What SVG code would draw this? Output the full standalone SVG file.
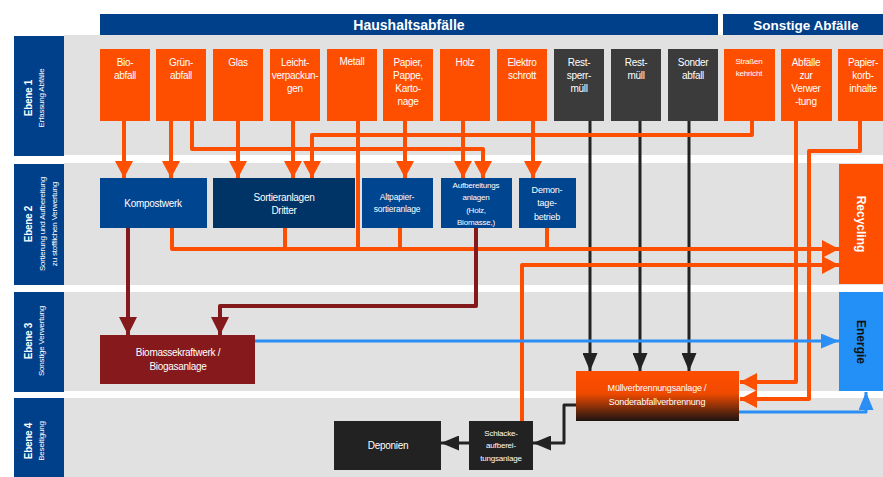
<svg xmlns="http://www.w3.org/2000/svg" width="883" height="477" viewBox="0 0 883 477">
<defs>
<style>
.band{fill:#e1e1e1}
.lvl{fill:#00408a}
.or{fill:#fe4e00}
.dk{fill:#3b3b3b}
.bl{fill:#00458f}
.bl2{fill:#003366}
.t{font-family:"Liberation Sans",Arial,sans-serif;fill:#fff;text-anchor:middle;font-size:10px;letter-spacing:-0.3px}
.s8{font-size:8px;letter-spacing:-0.2px}
.s85{font-size:8.5px;letter-spacing:-0.2px}
.s9{font-size:9px;letter-spacing:-0.2px}
.b{font-weight:bold}
.ol{stroke:#fe4e00;stroke-width:4;fill:none;stroke-linejoin:round}
.kl{stroke:#222;stroke-width:3;fill:none;stroke-linejoin:round}
.bll{stroke:#2b8ef5;stroke-width:3;fill:none;stroke-linejoin:round}
.rl{stroke:#84191b;stroke-width:4;fill:none;stroke-linejoin:round}
</style>
<marker id="ao" markerUnits="userSpaceOnUse" markerWidth="17" markerHeight="18" refX="17" refY="9" orient="auto"><path d="M0,0 L17,9 L0,18 z" fill="#fe4e00"/></marker>
<marker id="ak" markerUnits="userSpaceOnUse" markerWidth="18" markerHeight="15" refX="18" refY="7.5" orient="auto"><path d="M0,0 L18,7.5 L0,15 z" fill="#222"/></marker>
<marker id="ab" markerUnits="userSpaceOnUse" markerWidth="18" markerHeight="15" refX="18" refY="7.5" orient="auto"><path d="M0,0 L18,7.5 L0,15 z" fill="#2b8ef5"/></marker>
<marker id="ar" markerUnits="userSpaceOnUse" markerWidth="18" markerHeight="18" refX="18" refY="9" orient="auto"><path d="M0,0 L18,9 L0,18 z" fill="#84191b"/></marker>
<linearGradient id="mvag" x1="0" y1="0" x2="0" y2="1">
<stop offset="0" stop-color="#ff4e00"/>
<stop offset="0.45" stop-color="#f04a00"/>
<stop offset="1" stop-color="#1c1412"/>
</linearGradient>
</defs>
<rect width="883" height="477" fill="#fff"/>

<g id="bands">
<rect class="band" x="64" y="35" width="819" height="120"/>
<rect class="band" x="64" y="163" width="819" height="122"/>
<rect class="band" x="64" y="292" width="819" height="99"/>
<rect class="band" x="64" y="398" width="819" height="79"/>
</g>

<g id="headers">
<rect class="lvl" x="100" y="14" width="618" height="21"/>
<text class="t b" x="409" y="30" style="font-size:14px;letter-spacing:0">Haushaltsabfälle</text>
<rect class="lvl" x="723" y="14" width="160" height="21"/>
<text class="t b" x="806" y="30" style="font-size:13.5px;letter-spacing:0">Sonstige Abfälle</text>
</g>

<g id="ebene1">
<rect class="lvl" x="14" y="36" width="50" height="120"/>
<g transform="translate(0,98) rotate(-90)">
<text class="t b" x="0" y="32" style="font-size:10px">Ebene 1</text>
<text class="t s8" x="0" y="44">Erfassung Abfälle</text>
</g>
</g>
<g id="ebene2">
<rect class="lvl" x="14" y="164" width="50" height="121"/>
<g transform="translate(0,224) rotate(-90)">
<text class="t b" x="0" y="32" style="font-size:10px">Ebene 2</text>
<text class="t s8" x="0" y="45">Sortierung und Aufbereitung</text>
<text class="t s8" x="0" y="57">zu stofflichen Verwertung</text>
</g>
</g>
<g id="ebene3">
<rect class="lvl" x="14" y="292" width="50" height="100"/>
<g transform="translate(0,341) rotate(-90)">
<text class="t b" x="0" y="32" style="font-size:10px">Ebene 3</text>
<text class="t s8" x="0" y="44">Sonstige Verwertung</text>
</g>
</g>
<g id="ebene4">
<rect class="lvl" x="14" y="398" width="50" height="79"/>
<g transform="translate(0,441) rotate(-90)">
<text class="t b" x="0" y="32" style="font-size:10px">Ebene 4</text>
<text class="t s8" x="0" y="44">Beseitigung</text>
</g>
</g>

<g id="connectors">
<!-- level 1 -> level 2 orange -->
<path class="ol" d="M124,121 V178" marker-end="url(#ao)"/>
<path class="ol" d="M171,121 V178" marker-end="url(#ao)"/>
<path class="ol" d="M192,121 V149 H483 V178" marker-end="url(#ao)"/>
<path class="ol" d="M238,121 V178" marker-end="url(#ao)"/>
<path class="ol" d="M293,121 V178" marker-end="url(#ao)"/>
<path class="ol" d="M405,121 V178" marker-end="url(#ao)"/>
<path class="ol" d="M463,121 V178" marker-end="url(#ao)"/>
<path class="ol" d="M533,121 V178" marker-end="url(#ao)"/>
<!-- black into MVA -->
<path class="kl" d="M590,121 V371" marker-end="url(#ak)"/>
<path class="kl" d="M640,121 V371" marker-end="url(#ak)"/>
<path class="kl" d="M689,121 V371" marker-end="url(#ak)"/>
<path class="ol" d="M752,121 V135 H312 V178" marker-end="url(#ao)"/>
<!-- recycling collectors -->
<path class="ol" d="M358,121 V249"/>
<path class="ol" d="M285,228 V249"/>
<path class="ol" d="M400,228 V249"/>
<path class="ol" d="M547,228 V249"/>
<path class="ol" d="M172,228 V249 H839" marker-end="url(#ao)"/>
<path class="ol" d="M522,421 V265 H839" marker-end="url(#ao)"/>
<!-- sonstige to MVA -->
<path class="ol" d="M796,121 V382 H740" marker-end="url(#ao)"/>
<path class="ol" d="M860,121 V151 H809 V399 H740" marker-end="url(#ao)"/>
<!-- dark red to biomass -->
<path class="rl" d="M128,228 V335" marker-end="url(#ar)"/>
<path class="rl" d="M476,228 V306 H220 V335" marker-end="url(#ar)"/>
<!-- blue energy -->
<path class="bll" d="M255,341 H839" marker-end="url(#ab)"/>
<path class="bll" d="M739,412 H866 V392" marker-end="url(#ab)"/>
<!-- black disposal -->
<path class="kl" d="M576,405 H564 V443 H533" marker-end="url(#ak)"/>
<path class="kl" d="M469,443 H441" marker-end="url(#ak)"/>
</g>

<g id="n-bio"><rect class="or" x="100" y="49" width="50" height="72"/><text class="t" x="125" y="66">Bio-</text><text class="t" x="125" y="79">abfall</text></g>
<g id="n-gruen"><rect class="or" x="156" y="49" width="50" height="72"/><text class="t" x="181" y="66">Grün-</text><text class="t" x="181" y="79">abfall</text></g>
<g id="n-glas"><rect class="or" x="213" y="49" width="50" height="72"/><text class="t" x="238" y="66">Glas</text></g>
<g id="n-leicht"><rect class="or" x="270" y="49" width="50" height="72"/><text class="t" x="295" y="66">Leicht-</text><text class="t" x="295" y="79">verpackun-</text><text class="t" x="295" y="92">gen</text></g>
<g id="n-metall"><rect class="or" x="327" y="49" width="50" height="72"/><text class="t" x="352" y="65">Metall</text></g>
<g id="n-papier"><rect class="or" x="383" y="49" width="50" height="72"/><text class="t" x="408" y="66">Papier,</text><text class="t" x="408" y="79">Pappe,</text><text class="t" x="408" y="92">Karto-</text><text class="t" x="408" y="105">nage</text></g>
<g id="n-holz"><rect class="or" x="440" y="49" width="50" height="72"/><text class="t" x="465" y="66">Holz</text></g>
<g id="n-elektro"><rect class="or" x="497" y="49" width="50" height="72"/><text class="t" x="522" y="66">Elektro</text><text class="t" x="522" y="79">schrott</text></g>
<g id="n-restsperr"><rect class="dk" x="554" y="49" width="50" height="72"/><text class="t" x="579" y="66">Rest-</text><text class="t" x="579" y="79">sperr-</text><text class="t" x="579" y="92">müll</text></g>
<g id="n-restmuell"><rect class="dk" x="611" y="49" width="50" height="72"/><text class="t" x="636" y="66">Rest-</text><text class="t" x="636" y="79">müll</text></g>
<g id="n-sonder"><rect class="dk" x="668" y="49" width="50" height="72"/><text class="t" x="693" y="66">Sonder</text><text class="t" x="693" y="79">abfall</text></g>
<g id="n-strassen"><rect class="or" x="724" y="49" width="51" height="72"/><text class="t s8" x="749" y="64">Straßen</text><text class="t s8" x="749" y="76">kehricht</text></g>
<g id="n-verwertung"><rect class="or" x="781" y="49" width="51" height="72"/><text class="t" x="806" y="66">Abfälle</text><text class="t" x="806" y="79">zur</text><text class="t" x="806" y="92">Verwer</text><text class="t" x="806" y="105">-tung</text></g>
<g id="n-papierkorb"><rect class="or" x="838" y="49" width="50" height="72"/><text class="t" x="863" y="66">Papier-</text><text class="t" x="863" y="79">korb-</text><text class="t" x="863" y="92">inhalte</text></g>

<g id="n-kompost"><rect class="bl" x="100" y="178" width="107" height="50"/><text class="t" x="153" y="207">Kompostwerk</text></g>
<g id="n-sortier"><rect class="bl2" x="213" y="178" width="142" height="50"/><text class="t" x="284" y="201">Sortieranlagen</text><text class="t" x="284" y="214">Dritter</text></g>
<g id="n-altpapier"><rect class="bl" x="362" y="178" width="71" height="50"/><text class="t s85" x="397" y="200">Altpapier-</text><text class="t s85" x="397" y="212">sortieranlage</text></g>
<g id="n-aufbereitung"><rect class="bl" x="441" y="178" width="71" height="50"/><text class="t s8" x="476" y="188">Aufbereitungs</text><text class="t s8" x="476" y="200">anlagen</text><text class="t s8" x="476" y="213">(Holz,</text><text class="t s8" x="476" y="225">Biomasse,)</text></g>
<g id="n-demontage"><rect class="bl" x="519" y="178" width="57" height="50"/><text class="t s9" x="547" y="193">Demon-</text><text class="t s9" x="547" y="206">tage-</text><text class="t s9" x="547" y="220">betrieb</text></g>

<g id="n-recycling"><rect class="or" x="839" y="164" width="44" height="120"/><text class="t b" transform="translate(861,224) rotate(90)" x="0" y="4" style="font-size:12px;letter-spacing:0">Recycling</text></g>
<g id="n-energie"><rect x="839" y="292" width="44" height="99" fill="#2390f7"/><text class="t b" transform="translate(861,342) rotate(90)" x="0" y="4" style="font-size:12px;letter-spacing:0;fill:#111">Energie</text></g>

<g id="n-biomasse"><rect x="100" y="335" width="155" height="49" fill="#85191b"/><text class="t" x="178" y="356">Biomassekraftwerk /</text><text class="t" x="178" y="370">Biogasanlage</text></g>
<g id="n-mva"><rect x="576" y="371" width="163" height="50" fill="url(#mvag)"/><text class="t s9" x="657" y="391">Müllverbrennungsanlage /</text><text class="t s9" x="657" y="405">Sonderabfallverbrennung</text></g>
<g id="n-deponien"><rect x="334" y="421" width="107" height="49" fill="#222"/><text class="t" x="388" y="449">Deponien</text></g>
<g id="n-schlacke"><rect x="469" y="421" width="64" height="49" fill="#222"/><text class="t s8" x="501" y="436">Schlacke-</text><text class="t s8" x="501" y="448">aufberei-</text><text class="t s8" x="501" y="461">tungsanlage</text></g>
</svg>
